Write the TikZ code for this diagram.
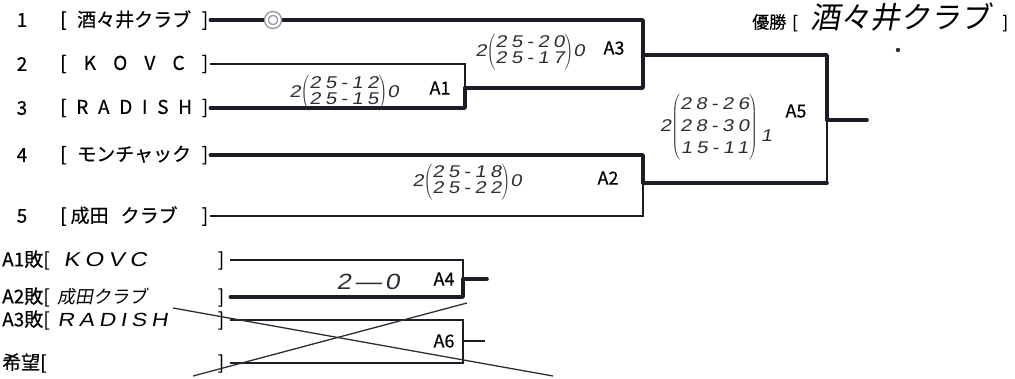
\documentclass[tikz,border=0pt]{standalone}
\usepackage{fontspec}
\setmainfont{Noto Sans CJK JP}[FakeBold=0.4]
\newfontfamily\pen{Liberation Sans}[FakeSlant=0.18,FakeStretch=1.2,LetterSpace=25]
\newfontfamily\penjp{Noto Sans CJK JP}[FakeSlant=0.18]
\usepackage{tikz}
\usetikzlibrary{
  positioning,
  calc
}
\definecolor{ink}{RGB}{28,28,38}
\definecolor{pencil}{RGB}{45,45,55}
\definecolor{stamp}{RGB}{150,150,158}

\newcommand{\score}[3]{#1$\left(\begin{tabular}{@{}c@{}}#2\end{tabular}\right)$#3}

\begin{document}
\begin{tikzpicture}[
            x=1pt, y=-1pt,
            num/.style={inner sep=0pt, font=\fontsize{19}{20}\selectfont},
            team/.style={anchor=west, text width=148pt, inner sep=2pt, font=\fontsize{19}{20}\selectfont},
            lose/.style={anchor=west, text width=222pt, inner xsep=6pt, inner ysep=0pt, font=\fontsize{19}{20}\selectfont},
            tag/.style={inner sep=0pt, font=\fontsize{18}{18}\selectfont},
            hand/.style={inner sep=0pt, text=pencil, font=\pen\fontsize{17}{16}\selectfont},
            thinline/.style={draw=ink, line width=1.6pt},
            winline/.style={draw=ink, line width=3.6pt, line cap=round, line join=round},
            cross/.style={draw=pencil, line width=1.3pt},
            seedring/.style={circle, draw=stamp, double=white, double distance=2.5pt, line width=1.4pt, fill=white, minimum size=13pt, inner sep=0pt}
        ]
            \useasboundingbox (0,0) rectangle (1015,378);

            % entries
            \node[num] (n1) at (22,20) {1};
            \node[team] (t1) at (58,20) {[\hfill 酒々井クラブ\hfill ]};
            \node[num] (n2) at (22,64) {2};
            \node[team] (t2) at (58,64) {[\hfill K\hfill O\hfill V\hfill C\hfill ]};
            \node[num] (n3) at (22,108) {3};
            \node[team] (t3) at (58,108) {[\hfill R\hfill A\hfill D\hfill I\hfill S\hfill H\hfill ]};
            \node[num] (n4) at (22,155) {4};
            \node[team] (t4) at (58,155) {[\hfill モンチャック\hfill ]};
            \node[num] (n5) at (22,216) {5};
            \node[team] (t5) at (58,216) {[\hspace{4pt}成田\hspace{12pt}クラブ\hfill ]};

            % match ends
            \coordinate (a1) at (465,88);
            \coordinate (a3) at (643,55);
            \coordinate (a2) at (643,183);
            \coordinate (a5) at (827,120);
            \coordinate (final) at (867,120);

            % A1
            \draw[thinline] (t2.east) -| (a1);
            \draw[winline] (t3.east) -| (a1);
            % A3
            \draw[winline] (t1.east) -| (a3);
            \draw[winline] (a1) -| (a3);
            % A2
            \draw[winline] (t4.east) -| (a2);
            \draw[thinline] (t5.east) -| (a2);
            % A5
            \draw[winline] (a3) -| (a5);
            \draw[winline] (a2) -- (a2 -| a5);
            \draw[thinline] (a2 -| a5) -- (a5);
            \draw[winline] (a5) -- (final);

            \node[seedring] (seed) at (273,20) {};

            % match tags
            \node[tag] (tag1) at (440,88) {A1};
            \node[tag] (tag3) at (614,48) {A3};
            \node[tag] (tag2) at (608,178) {A2};
            \node[tag] (tag5) at (796,111) {A5};

            % scores
            \node[hand] (s1) at (344,93) {\score{2}{25-12\\25-15}{0}};
            \node[hand] (s3) at (530,52) {\score{2}{25-20\\25-17}{0}};
            \node[hand] (s2) at (467,182) {\score{2}{25-18\\25-22}{0}};
            \node[hand, font=\pen\fontsize{17}{22}\selectfont] (s5) at (716,127) {\score{2}{28-26\\28-30\\15-11}{\,\raisebox{-10pt}{1}}};

            % champion
            \node[anchor=west, text width=256pt, inner sep=0pt, font=\fontsize{17}{20}\selectfont] (champ) at (752,17) {優勝\hspace{6pt}[\hfill{\penjp\fontsize{30}{30}\selectfont 酒々井クラブ}\hfill ]};
            \fill[pencil] (898,50) circle (2.2pt);

            % losers bracket
            \node[lose] (l1) at (-4,260) {A1敗[\hspace{14pt}{\pen\fontsize{20}{20}\selectfont KOVC}\hfill ]};
            \node[lose] (l2) at (-4,297) {A2敗[\hspace{8pt}{\penjp\fontsize{18}{18}\selectfont 成田クラブ}\hfill ]};
            \node[lose] (l3) at (-4,320) {A3敗[\hspace{8pt}{\pen\fontsize{19}{20}\selectfont RADISH}\hfill ]};
            \node[lose] (l4) at (-4,363) {希望[\hfill ]};

            \coordinate (a4) at (463,279);
            \coordinate (a4end) at (487,279);
            \coordinate (a6) at (463,341);
            \coordinate (a6end) at (485,341);

            % A4
            \draw[thinline] (l1.east) -| (a4);
            \draw[winline] (l2.east) -| (a4);
            \draw[winline] (a4) -- (a4end);
            % A6
            \draw[thinline] (l3.east) -| (a6);
            \draw[thinline] (l4.east) -| (a6);
            \draw[thinline] (a6) -- (a6end);

            \node[tag] (tag4) at (444,279) {A4};
            \node[tag] (tag6) at (444,341) {A6};
            \node[hand, font=\pen\fontsize{22}{22}\selectfont] (s4) at (368,282) {2\,—\,0};

            % crossed out
            \coordinate (xa) at (173,308);
            \coordinate (xb) at (553,376);
            \coordinate (xc) at (193,376);
            \coordinate (xd) at (467,303);
            \draw[cross] (xa) -- (xb);
            \draw[cross] (xc) -- (xd);
        \end{tikzpicture}
\end{document}
